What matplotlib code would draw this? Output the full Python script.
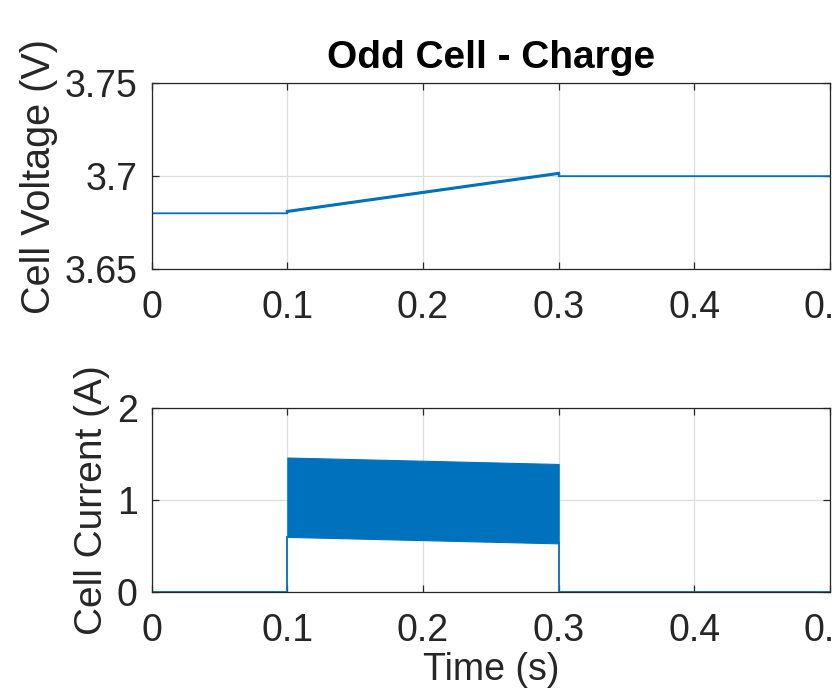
import matplotlib
matplotlib.use("Agg")
import matplotlib.pyplot as plt

plt.rcParams["font.family"] = ["Liberation Sans", "DejaVu Sans"]

# voltage trace (s, V)
t_volt = [0.0, 0.1, 0.1, 0.3, 0.3, 0.5]
v_cell = [3.680, 3.680, 3.681, 3.7015, 3.700, 3.700]

# current: idle parts and PWM envelope during charge (s, A)
t_idle = [0.0, 0.1, 0.1]
i_idle = [0.0, 0.0, 0.60]
t_after = [0.3, 0.3, 0.5]
i_after = [0.53, 0.0, 0.0]
t_env = [0.1, 0.3]
i_low = [0.60, 0.53]
i_high = [1.46, 1.39]

xticks = [0, 0.1, 0.2, 0.3, 0.4, 0.5]
xticklabels = ["0", "0.1", "0.2", "0.3", "0.4", "0.5"]

blue = "#0072BD"
dark = "#262626"

fig = plt.figure(figsize=(8.32, 7.0), dpi=100)
ax1 = fig.add_axes([0.1823, 0.6157, 0.8153, 0.2653])
ax2 = fig.add_axes([0.1823, 0.1539, 0.8153, 0.2637])


def style(ax):
    ax.set_xlim(0, 0.5)
    ax.set_xticks(xticks)
    ax.set_xticklabels(xticklabels)
    ax.grid(True, color="#dedede", linewidth=0.9)
    ax.set_axisbelow(True)
    ax.tick_params(direction="in", length=5, width=0.9, colors=dark,
                   labelsize=27, top=True, right=True)
    ax.tick_params(axis="x", pad=15)
    ax.tick_params(axis="y", pad=10)
    for s in ax.spines.values():
        s.set_color(dark)
        s.set_linewidth(0.9)


ax1.plot(t_volt, v_cell, color=blue, linewidth=1.3)
ax1.plot(t_volt[2:4], v_cell[2:4], color=blue, linewidth=2.2)
ax1.set_ylim(3.65, 3.75)
ax1.set_yticks([3.65, 3.7, 3.75])
ax1.set_yticklabels(["3.65", "3.7", "3.75"])
style(ax1)
ax1.set_ylabel("Cell Voltage (V)", fontsize=28.5, color=dark, labelpad=5)
ax1.set_title("Odd Cell - Charge", fontsize=28, fontweight="bold", pad=11)

ax2.fill_between(t_env, i_low, i_high, color=blue, linewidth=0.8, edgecolor=blue)
ax2.plot(t_idle, i_idle, color=blue, linewidth=1.3)
ax2.plot(t_after, i_after, color=blue, linewidth=1.3)
ax2.set_ylim(0, 2)
ax2.set_yticks([0, 1, 2])
style(ax2)
ax2.set_ylabel("Cell Current (A)", fontsize=28, color=dark, labelpad=5)
ax2.set_xlabel("Time (s)", fontsize=27, color=dark, labelpad=2)

fig.savefig("out.png", dpi=100)
plt.close(fig)
